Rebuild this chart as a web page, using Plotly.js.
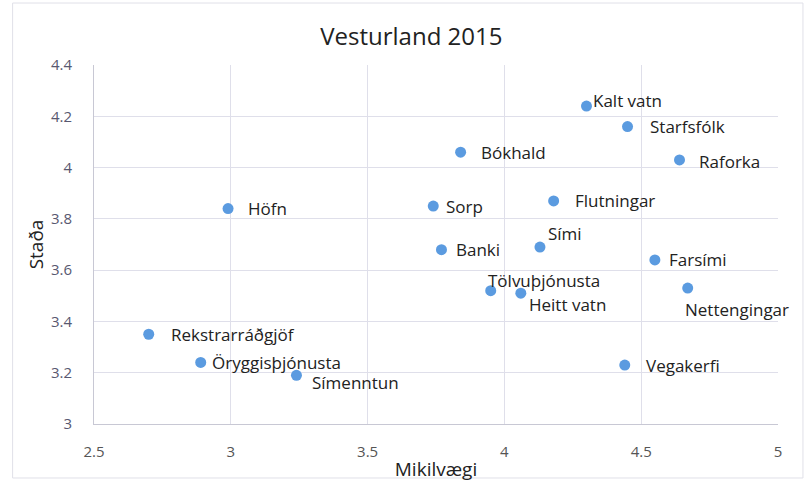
<!DOCTYPE html>
<html>
<head>
<meta charset="utf-8">
<script src="https://cdn.plot.ly/plotly-3.0.1.min.js"></script>
<style>html,body{margin:0;padding:0;background:#fff;}#chart{width:805px;height:486px;}</style>
</head>
<body>
<div id="chart"></div>
<script>
const labels = ["Höfn","Rekstrarráðgjöf","Öryggisþjónusta","Símenntun","Bókhald","Sorp","Flutningar","Sími","Banki","Tölvuþjónusta","Heitt vatn","Kalt vatn","Starfsfólk","Raforka","Farsími","Nettengingar","Vegakerfi"];
const mikilvaegi = [2.99,2.70,2.89,3.24,3.84,3.74,4.18,4.13,3.77,3.95,4.06,4.30,4.45,4.64,4.55,4.67,4.44];
const stada = [3.84,3.35,3.24,3.19,4.06,3.85,3.87,3.69,3.68,3.52,3.51,4.24,4.16,4.03,3.64,3.53,3.23];
const xTicks = [2.5,3,3.5,4,4.5,5];
const yTicks = [3,3.2,3.4,3.6,3.8,4,4.2,4.4];

// label offsets in pixels (style only)
const offX = [18,20,9,14,18,11,19,6,13,-5,6,5,20,17,12,-5,19];
const offY = [0,0,0,7,0,0,0,-14,0,-10,11,-6,0,2,0,21,0];

const fontFam = '"Open Sans", sans-serif';
const annotations = labels.map((t,i)=>({
  x: mikilvaegi[i], y: stada[i], xref:'x', yref:'y', text:t, showarrow:false,
  xanchor:'left', yanchor:'middle', xshift: offX[i], yshift: -offY[i],
  font:{family:fontFam, size:17, color:'#222'}
}));

const trace = {x: mikilvaegi, y: stada, mode:'markers', type:'scatter',
  marker:{size:11, color:'#5b9be0'}, hoverinfo:'text', text:labels};

const layout = {
  width:805, height:486,
  margin:{l:93.5, r:27, t:65, b:62},
  paper_bgcolor:'#fff', plot_bgcolor:'#fff',
  showlegend:false,
  title:{text:'Vesturland 2015', x:0.511, xanchor:'center', y:0.925, yanchor:'middle',
    font:{family:fontFam, size:24, color:'#222'}},
  xaxis:{range:[2.5,5], tickvals:xTicks, ticktext:xTicks.map(String),
    showgrid:true, gridcolor:'#dfdfea', zeroline:false, showline:true, linecolor:'#c8c8d4',
    ticks:'', ticklabelstandoff:14, tickfont:{family:fontFam, size:15, color:'#555'},
    title:{text:'Mikilvægi', standoff:2, font:{family:fontFam, size:19, color:'#222'}}},
  yaxis:{range:[3,4.4], tickvals:yTicks, ticktext:yTicks.map(String),
    showgrid:true, gridcolor:'#dfdfea', zeroline:false, showline:true, linecolor:'#c8c8d4',
    ticks:'', ticklabelstandoff:18, tickfont:{family:fontFam, size:15, color:'#585870'},
    title:{text:'Staða', standoff:2, font:{family:fontFam, size:19, color:'#222'}}},
  annotations: annotations,
  shapes:[{type:'rect', xref:'paper', yref:'paper', x0:-0.119, x1:1.0365, y0:-0.1504, y1:1.1727,
    line:{color:'#e0e0e8', width:1}}]
};
Plotly.newPlot('chart',[trace],layout,{displayModeBar:false, staticPlot:true});
</script>
</body>
</html>
